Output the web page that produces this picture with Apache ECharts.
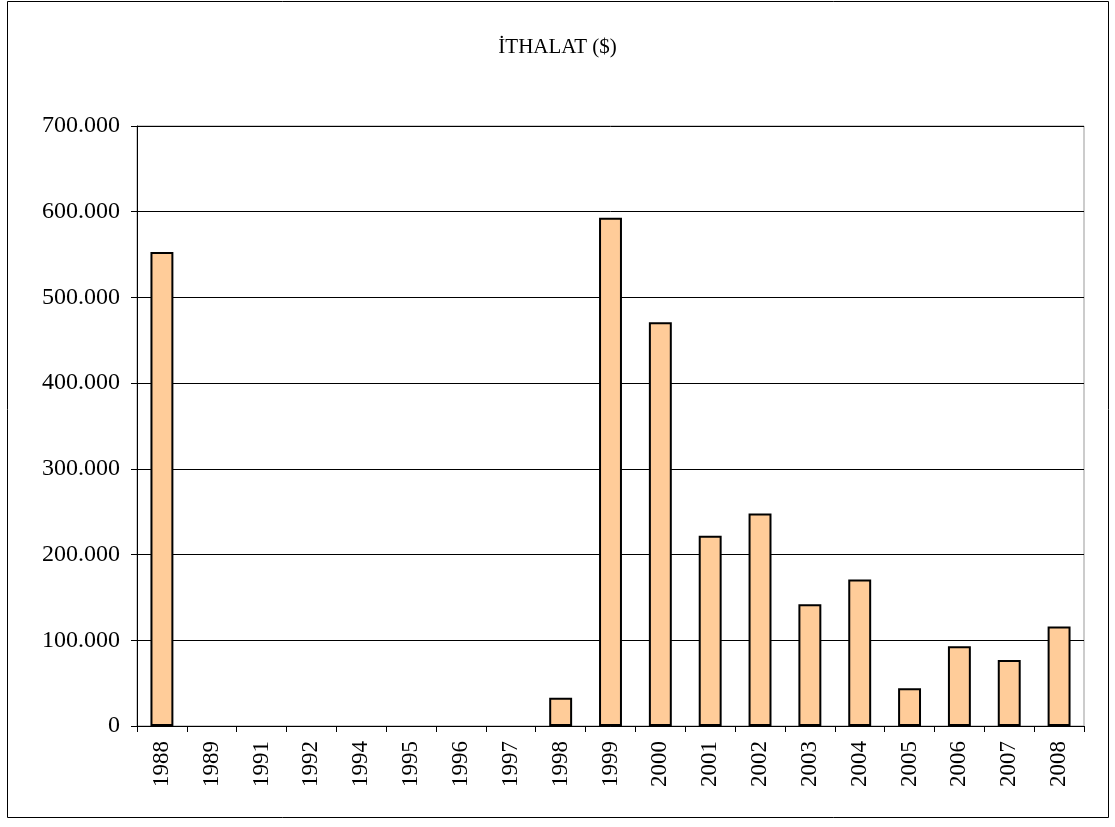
<!DOCTYPE html>
<html lang="tr">
<head>
    <meta charset="UTF-8">
    <title>İTHALAT ($)</title>
    <script src="https://cdn.jsdelivr.net/npm/echarts@6/dist/echarts.min.js"></script>
    <style>
        html, body { margin: 0; padding: 0; background: #fff; }
    </style>
</head>
<body>
<div id="main" style="width: 1115px;height:827px;"></div>

<script type="text/javascript">
    // yıllar ve ithalat değerleri ($)
    var years = ['1988', '1989', '1991', '1992', '1994', '1995', '1996', '1997', '1998', '1999',
        '2000', '2001', '2002', '2003', '2004', '2005', '2006', '2007', '2008'];
    var imports = [553000, 0, 0, 0, 0, 0, 0, 0, 33000, 593000,
        471000, 222000, 248000, 142000, 171000, 44000, 93000, 77000, 116000];
    var yTicks = [0, 100000, 200000, 300000, 400000, 500000, 600000, 700000];

    var serif = '"Liberation Serif", "DejaVu Serif", serif';

    function fmt(v) {
        return String(v).replace(/\B(?=(\d{3})+(?!\d))/g, '.');
    }

    // sıfır değerli çubuklarda kenar çizgisi görünmesin
    var barData = imports.map(function (v) {
        return v === 0 ? { value: v, itemStyle: { borderWidth: 0 } } : v;
    });

    var myChart = echarts.init(document.getElementById('main'));

    option = {
        animation: false,
        backgroundColor: '#fff',
        title: {
            text: 'İTHALAT ($)',
            left: 'center',
            top: 32,
            textStyle: { fontFamily: serif, fontSize: 21, fontWeight: 'normal', color: '#000' }
        },
        graphic: [{
            type: 'rect',
            shape: { x: 7.5, y: 1.5, width: 1101, height: 816 },
            style: { fill: null, stroke: '#000', lineWidth: 1 },
            silent: true
        }],
        grid: {
            left: 137, right: 31, top: 126, bottom: 101,
            show: true,
            borderColor: '#999',
            borderWidth: 1
        },
        xAxis: {
            type: 'category',
            data: years,
            axisLine: { lineStyle: { color: '#000', width: 1 } },
            axisTick: { show: true, length: 6, alignWithLabel: false, lineStyle: { color: '#000' } },
            axisLabel: {
                rotate: 90,
                margin: 15,
                interval: 0,
                fontFamily: serif,
                fontSize: 23,
                color: '#000'
            }
        },
        yAxis: {
            type: 'value',
            min: yTicks[0],
            max: yTicks[yTicks.length - 1],
            interval: yTicks[1] - yTicks[0],
            axisLine: { show: true, lineStyle: { color: '#000', width: 1 } },
            axisTick: { show: true, length: 6, lineStyle: { color: '#000' } },
            splitLine: { show: true, lineStyle: { color: '#000', width: 1 } },
            axisLabel: {
                margin: 17,
                fontFamily: serif,
                fontSize: 24,
                color: '#000',
                formatter: fmt
            }
        },
        series: [{
            name: 'İTHALAT',
            type: 'bar',
            data: barData,
            barCategoryGap: '54%',
            itemStyle: {
                color: '#FFCC99',
                borderColor: '#000',
                borderWidth: 2
            }
        }]
    };

    myChart.setOption(option);
</script>
</body>
</html>
